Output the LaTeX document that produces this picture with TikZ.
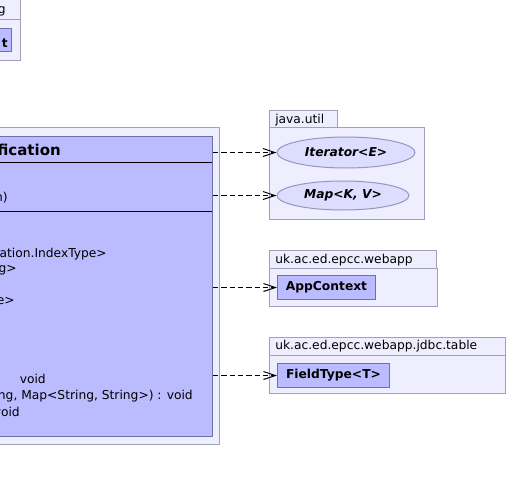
\documentclass[tikz,border=0pt]{standalone}
\usepackage{fontspec}
\setmainfont{DejaVu Sans}
\usetikzlibrary{positioning}
\usetikzlibrary{arrows.meta}
\usetikzlibrary{shapes.geometric}
\usepackage{xcolor}

\definecolor{pkgfill}{RGB}{238,238,255}
\definecolor{pkgline}{RGB}{160,160,184}
\definecolor{clsfill}{RGB}{187,187,255}
\definecolor{clsline}{RGB}{112,112,168}
\definecolor{ifcfill}{RGB}{221,221,255}
\definecolor{ifcline}{RGB}{150,150,190}
\newcommand{\umlfont}{\fontsize{9.2}{11}\selectfont}

\tikzset{
  pkg/.style={draw=pkgline, fill=pkgfill, line width=0.75pt, anchor=north west, inner sep=0pt},
  cls/.style={draw=clsline, fill=clsfill, line width=0.75pt, anchor=north west, inner sep=0pt, font=\umlfont\bfseries},
  ifc/.style={ellipse, draw=ifcline, fill=ifcfill, line width=0.75pt, inner sep=0pt, font=\umlfont\bfseries\itshape},
  txt/.style={inner sep=0pt, anchor=base west, font=\umlfont},
  cut/.style={inner sep=0pt, anchor=base east, font=\umlfont},
  dep/.style={dash pattern=on 4pt off 2.25pt, line width=0.75pt, -{Straight Barb[length=9pt,width=6pt]}}
}

\begin{document}
\begin{tikzpicture}[x=0.75pt, y=-0.75pt]

\useasboundingbox[fill=white] (0,0) rectangle (508,482);

%top left package (cut off)
\node[pkg, minimum width=45pt, minimum height=15.75pt] (topTab) at (-40,-2) {};
\node[pkg, minimum width=45pt, minimum height=30.75pt] (topPkg) at (-40,19) {};
\node[cut] (topName) at (6,13) {g};
\node[cls, minimum width=38.25pt, minimum height=17.25pt] (topCls) at (-40,28) {};
\node[cut, font=\umlfont\bfseries] (topClsName) at (8,47) {t};

%package of the main class
\node[pkg, minimum width=276.75pt, minimum height=237.75pt] (specPkg) at (-150,127) {};
\node[cls, minimum width=271.5pt, minimum height=225pt] (specCls) at (-150,136) {};
\draw[black, line width=0.75pt] (-150,162) -- (212,162);
\draw[black, line width=0.75pt] (-150,211) -- (212,211);
\node[cut, font=\fontsize{11.25}{13}\selectfont\bfseries] (specName) at (61,155) {fication};

%attributes
\node[cut] (specAttr) at (8,201) {n)};

%operations
\node[cut] (specOpA) at (107,257) {ation.IndexType>};
\node[cut] (specOpB) at (17,272) {g>};
\node[cut] (specOpC) at (15,304) {e>};
\node[cut] (specOpD) at (46,383) {void};
\node[cut] (specOpE) at (193,399.5) {ng, Map<String, String>) : void};
\node[cut] (specOpF) at (20,416) {void};

%java.util
\node[pkg, minimum width=51pt, minimum height=12.75pt] (utilTab) at (269,110) {};
\node[pkg, minimum width=116.25pt, minimum height=69pt] (utilPkg) at (269,127) {};
\node[txt] (utilName) at (275,123) {java.util};
\node[ifc, minimum width=103.5pt, minimum height=23.25pt] (iterCls) at (346,152.5) {Iterator<E>};
\node[ifc, minimum width=99pt, minimum height=21.75pt] (mapCls) at (343,195.5) {Map<K, V>};

%uk.ac.ed.epcc.webapp
\node[pkg, minimum width=125.25pt, minimum height=13.5pt] (webTab) at (269,250) {};
\node[pkg, minimum width=126pt, minimum height=28.5pt] (webPkg) at (269,268) {};
\node[txt] (webName) at (275,263) {uk.ac.ed.epcc.webapp};
\node[cls, minimum width=73.5pt, minimum height=18pt] (ctxCls) at (277,275) {AppContext};

%uk.ac.ed.epcc.webapp.jdbc.table
\node[pkg, minimum width=177pt, minimum height=13.5pt] (tableTab) at (269,337) {};
\node[pkg, minimum width=177pt, minimum height=28.5pt] (tablePkg) at (269,355) {};
\node[txt] (tableName) at (275,349) {uk.ac.ed.epcc.webapp.jdbc.table};
\node[cls, minimum width=84pt, minimum height=18pt] (fieldCls) at (277,363) {FieldType<T>};

%dependencies
\draw[dep] (specCls.east |- iterCls.west) -- (iterCls.west);
\draw[dep] (specCls.east |- mapCls.west) -- (mapCls.west);
\draw[dep] (specCls.east |- ctxCls.west) -- (ctxCls.west);
\draw[dep] (specCls.east |- fieldCls.west) -- (fieldCls.west);

\end{tikzpicture}
\end{document}
